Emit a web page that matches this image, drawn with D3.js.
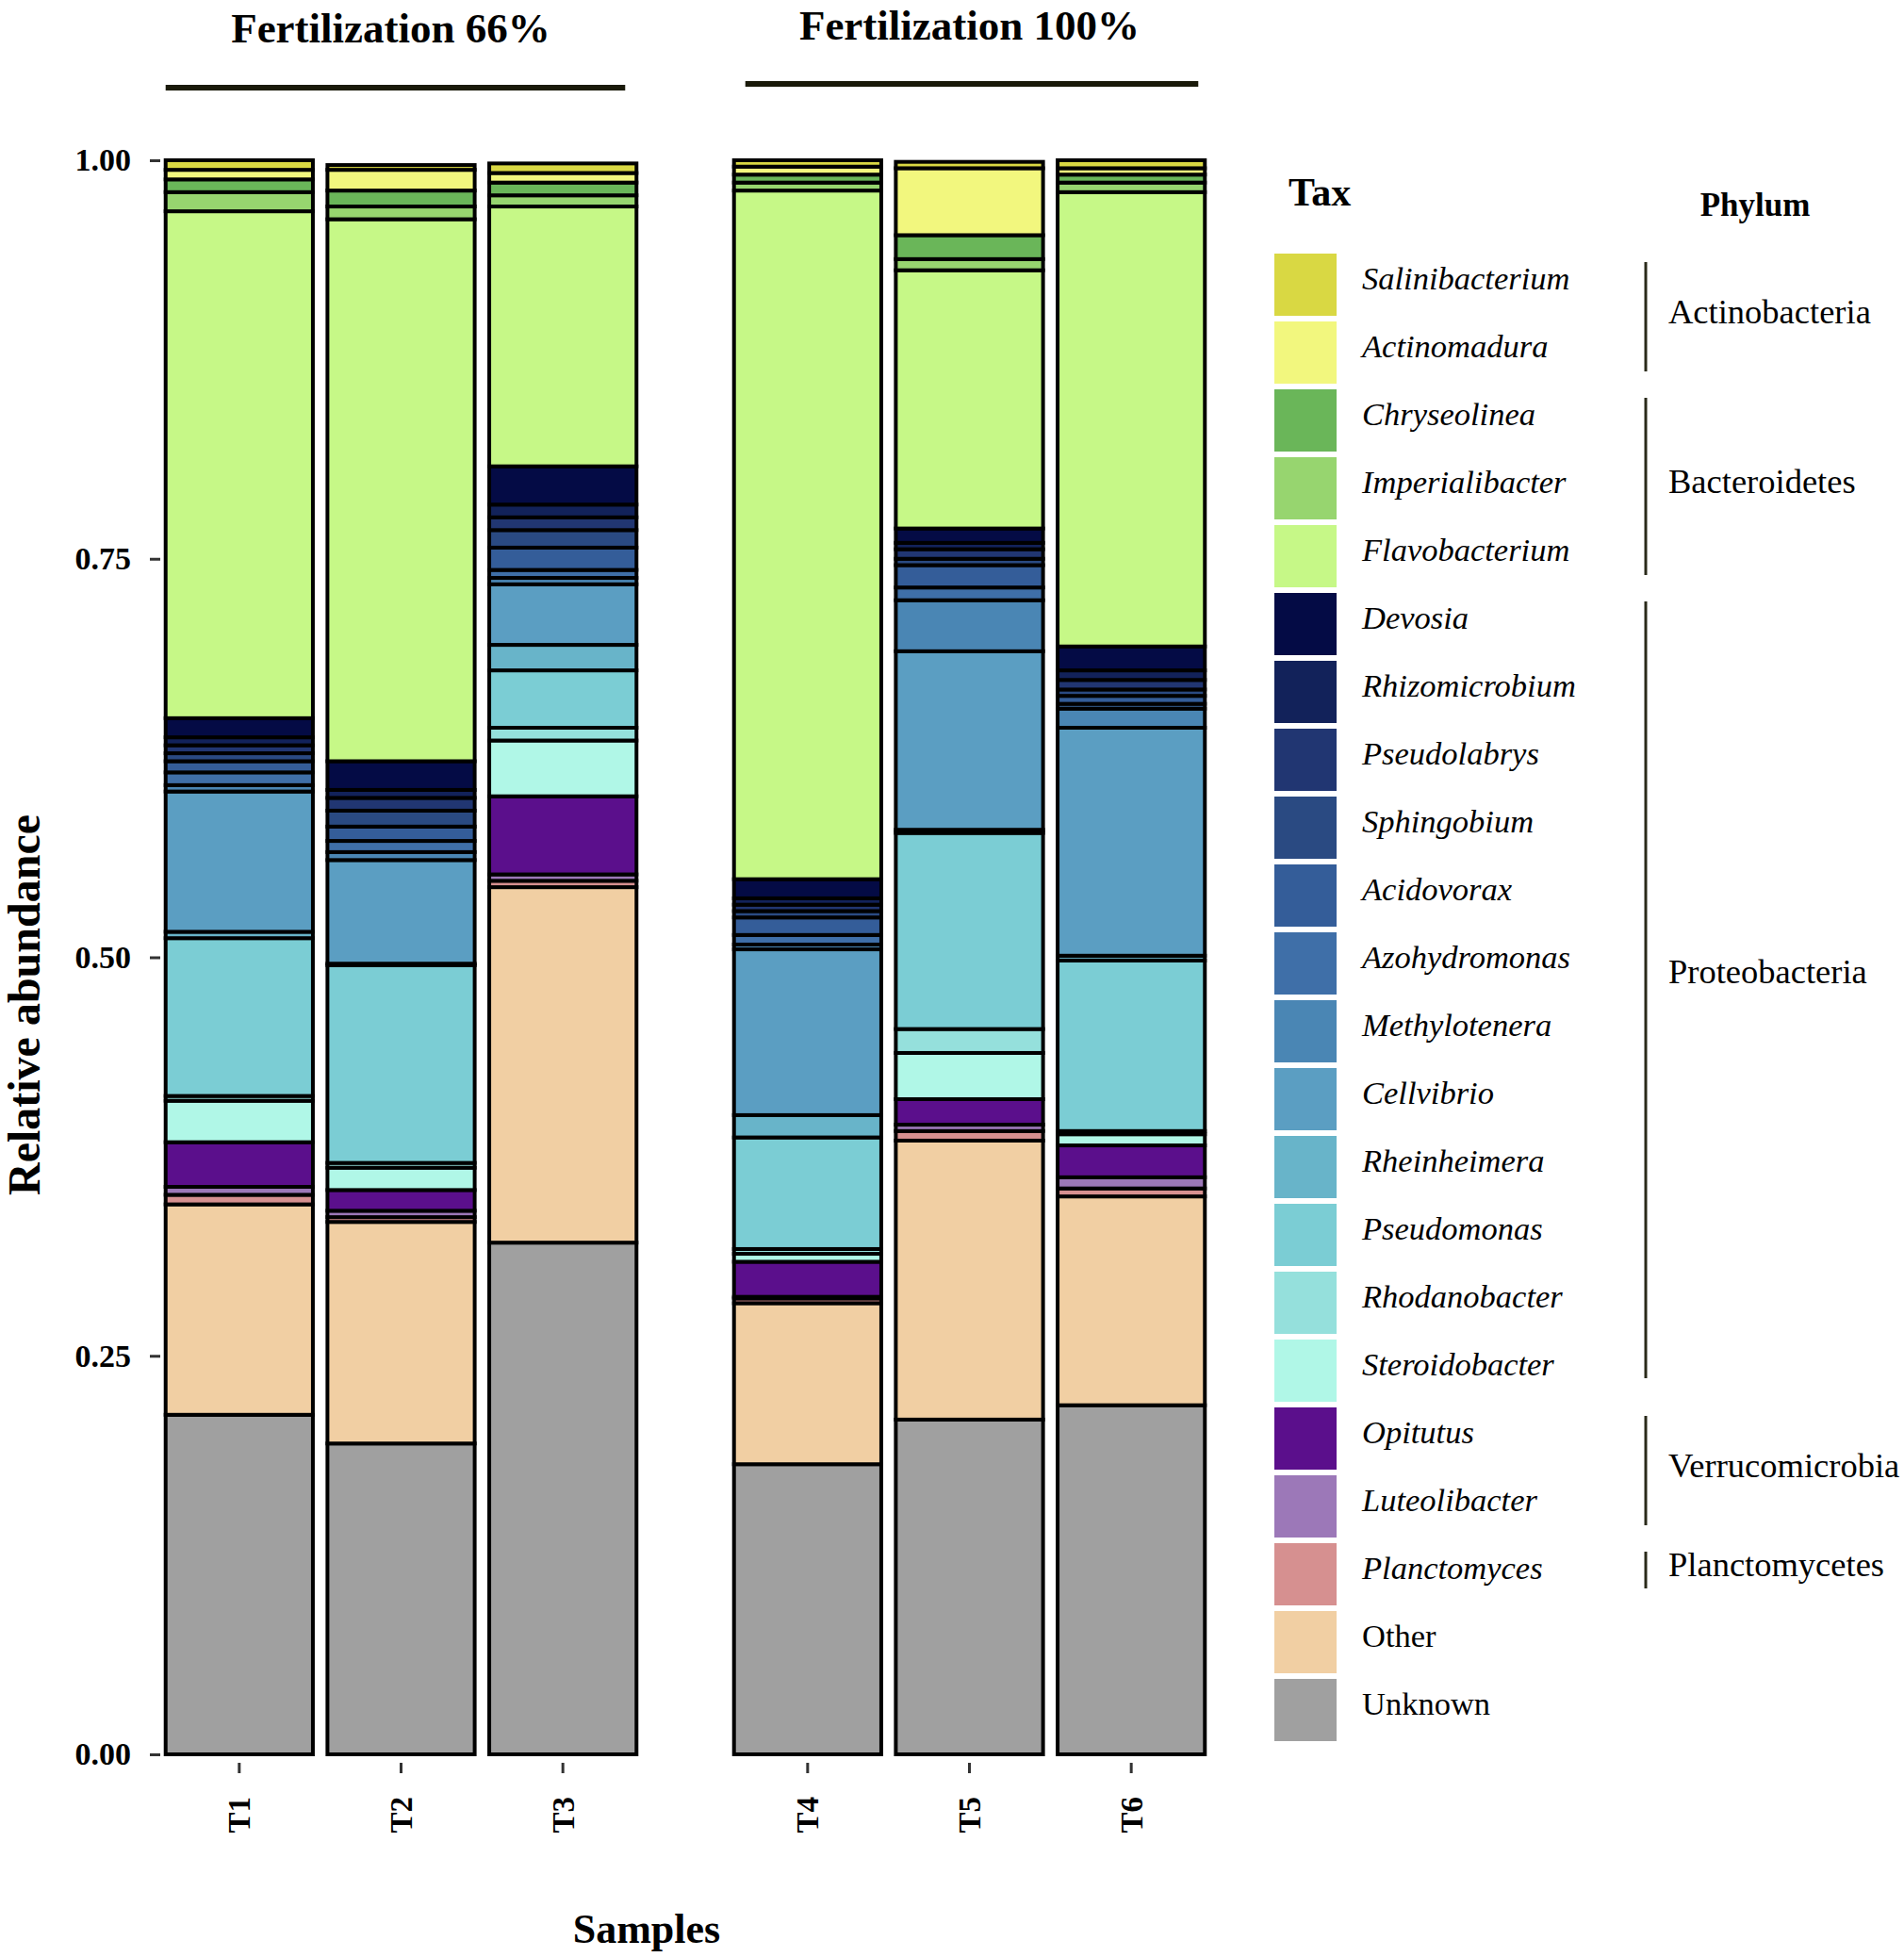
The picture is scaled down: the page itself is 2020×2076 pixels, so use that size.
<!DOCTYPE html>
<html>
<head>
<meta charset="utf-8">
<title>Relative abundance</title>
<script src="https://cdn.jsdelivr.net/npm/d3@7"></script>
<style>
body { margin: 0; background: #fff; }
text { font-family: "Liberation Serif", "DejaVu Serif", serif; fill: #000; }
.bold { font-weight: bold; }
.seg { stroke: #000; stroke-width: 4; }
</style>
</head>
<body>
<script>

// legend / stacking order, top of bar first
var taxa = ["Salinibacterium", "Actinomadura", "Chryseolinea", "Imperialibacter", "Flavobacterium",
  "Devosia", "Rhizomicrobium", "Pseudolabrys", "Sphingobium", "Acidovorax", "Azohydromonas",
  "Methylotenera", "Cellvibrio", "Rheinheimera", "Pseudomonas", "Rhodanobacter", "Steroidobacter",
  "Opitutus", "Luteolibacter", "Planctomyces", "Other", "Unknown"];

var colors = ["#d9d843", "#f2f77e", "#6ab659", "#97d56f", "#c6f887",
  "#040b45", "#12225a", "#213672", "#2a4a82", "#345d99", "#3f6fa8",
  "#4a86b4", "#5b9ec2", "#68b4c9", "#7bcdd4", "#95e0dc", "#b0f7e7",
  "#5b0f8c", "#9c78b8", "#d69090", "#f1cfa3", "#a0a0a0"];

var samples = ["T1", "T2", "T3", "T4", "T5", "T6"];
var groups = ["Fertilization 66%", "Fertilization 100%"];
var groupSamples = [["T1", "T2", "T3"], ["T4", "T5", "T6"]];

// relative abundance per sample, same order as taxa
var T1 = [.006, .006, .008, .012, .318, .012, .005, .005, .005, .007, .008, .004, .088, .004, .099, .003, .026, .028, .005, .006, .132, .213];
var T2 = [.003, .013, .010, .008, .340, .018, .005, .008, .010, .009, .007, .005, .065, .001, .124, .003, .014, .013, .004, .003, .139, .195];
var T3 = [.006, .006, .008, .007, .163, .024, .008, .008, .011, .014, .005, .004, .038, .016, .036, .008, .035, .049, .004, .004, .223, .321];
var T4 = [.004, .005, .005, .005, .432, .012, .004, .004, .004, .011, .006, .003, .104, .014, .070, .003, .005, .022, .001, .003, .101, .182];
var T5 = [.004, .042, .015, .007, .162, .009, .004, .006, .004, .014, .008, .032, .112, .002, .123, .015, .029, .016, .004, .006, .175, .210];
var T6 = [.005, .004, .005, .006, .285, .015, .006, .006, .004, .005, .003, .012, .143, .003, .107, .002, .007, .020, .007, .005, .131, .219];

var yTicks = [0, 0.25, 0.5, 0.75, 1];

var phyla = [
  {name: "Actinobacteria", from: 0, to: 1},
  {name: "Bacteroidetes", from: 2, to: 4},
  {name: "Proteobacteria", from: 5, to: 16},
  {name: "Verrucomicrobia", from: 17, to: 18},
  {name: "Planctomycetes", from: 19, to: 19}
];

var values = {T1: T1, T2: T2, T3: T3, T4: T4, T5: T5, T6: T6};
var table = samples.map(function(s) {
  var row = {sample: s};
  taxa.forEach(function(t, i) { row[t] = values[s][i]; });
  return row;
});

var w = 2020, h = 2076;

var svg = d3.select("body").append("svg")
    .attr("width", w)
    .attr("height", h);

var y = d3.scaleLinear().domain([0, 1]).range([1861, 170]);
var color = d3.scaleOrdinal().domain(taxa).range(colors);

var xs = [
  d3.scaleBand().domain(groupSamples[0]).range([168, 683]).paddingInner(0.09).paddingOuter(0.045),
  d3.scaleBand().domain(groupSamples[1]).range([771, 1286]).paddingInner(0.09).paddingOuter(0.045)
];
function xOf(s) { return xs[0].domain().indexOf(s) >= 0 ? xs[0] : xs[1]; }

// ggplot draws the first level on top, so stack from the bottom up
var series = d3.stack().keys(taxa.slice().reverse())(table);

var layers = svg.selectAll("g.layer")
    .data(series)
  .enter().append("g")
    .attr("class", "layer")
    .attr("fill", function(d) { return color(d.key); });

layers.selectAll("rect")
    .data(function(d) { return d; })
  .enter().append("rect")
    .attr("class", "seg")
    .attr("x", function(d) { return xOf(d.data.sample)(d.data.sample); })
    .attr("width", function(d) { return xOf(d.data.sample).bandwidth(); })
    .attr("y", function(d) { return y(d[1]); })
    .attr("height", function(d) { return y(d[0]) - y(d[1]); });

// y axis
var yAxis = svg.append("g")
    .attr("transform", "translate(170,0)")
    .call(d3.axisLeft(y).tickValues(yTicks).tickFormat(d3.format(".2f")).tickSize(11).tickPadding(20));
yAxis.select(".domain").remove();
yAxis.selectAll("line").attr("stroke", "#333").attr("stroke-width", 3);
yAxis.selectAll("text")
    .attr("class", "bold")
    .style("font-size", "34px")
    .style("font-family", "Liberation Serif");

svg.append("text")
    .attr("class", "bold")
    .attr("transform", "translate(42,1066) rotate(-90)")
    .attr("text-anchor", "middle")
    .style("font-size", "48px")
    .text("Relative abundance");

// x axes, one per facet
xs.forEach(function(x) {
  var g = svg.append("g")
      .attr("transform", "translate(0,1870)")
      .call(d3.axisBottom(x).tickSize(11));
  g.select(".domain").remove();
  g.selectAll("line").attr("stroke", "#333").attr("stroke-width", 3);
  g.selectAll("text")
      .attr("class", "bold")
      .style("font-size", "33px")
      .style("font-family", "Liberation Serif")
      .attr("transform", "rotate(-90)")
      .attr("text-anchor", "end")
      .attr("x", -36)
      .attr("y", 0)
      .attr("dy", "0.35em");
});

svg.append("text")
    .attr("class", "bold")
    .attr("x", 686)
    .attr("y", 2061)
    .attr("text-anchor", "middle")
    .style("font-size", "44px")
    .text("Samples");

// facet headers
var headY = [45, 42], lineY = [93, 89];
groups.forEach(function(gname, i) {
  var x = xs[i];
  var x0 = x(groupSamples[i][0]), x1 = x(groupSamples[i][2]) + x.bandwidth();
  svg.append("text")
      .attr("class", "bold")
      .attr("x", (x0 + x1) / 2 + (i === 0 ? -11 : 0))
      .attr("y", headY[i])
      .attr("text-anchor", "middle")
      .style("font-size", "45px")
      .text(gname);
  svg.append("line")
      .attr("x1", x0 + (i === 0 ? 0 : 12))
      .attr("x2", x1 - (i === 0 ? 12 : 7))
      .attr("y1", lineY[i])
      .attr("y2", lineY[i])
      .attr("stroke", "#1a1a0a")
      .attr("stroke-width", 6);
});

// legend
var step = 72, top0 = 302;
svg.append("text")
    .attr("class", "bold")
    .attr("x", 1367)
    .attr("y", 218)
    .style("font-size", "42px")
    .text("Tax");

svg.append("text")
    .attr("class", "bold")
    .attr("x", 1862)
    .attr("y", 229)
    .attr("text-anchor", "middle")
    .style("font-size", "35px")
    .text("Phylum");

var keys = svg.selectAll("g.key")
    .data(taxa)
  .enter().append("g")
    .attr("class", "key")
    .attr("transform", function(d, i) { return "translate(1352," + (top0 + i * step) + ")"; });

keys.append("rect")
    .attr("x", 0)
    .attr("y", -33)
    .attr("width", 66)
    .attr("height", 66)
    .attr("fill", function(d) { return color(d); });

keys.append("text")
    .attr("x", 93)
    .attr("y", -7)
    .attr("dy", "0.35em")
    .style("font-size", "34.5px")
    .style("font-style", function(d) { return d === "Other" || d === "Unknown" ? "normal" : "italic"; })
    .text(function(d) { return d; });

var ph = svg.selectAll("g.phylum")
    .data(phyla)
  .enter().append("g")
    .attr("class", "phylum");

function lineTop(d) { return top0 + d.from * step - 24; }
function lineBottom(d) {
  var pad = d.to - d.from > 5 ? 8 : (d.to === d.from ? 15 : 20);
  return top0 + d.to * step + pad;
}

ph.append("line")
    .attr("x1", 1746)
    .attr("x2", 1746)
    .attr("y1", lineTop)
    .attr("y2", lineBottom)
    .attr("stroke", "#2a2a1a")
    .attr("stroke-width", 3);

ph.append("text")
    .attr("x", 1770)
    .attr("y", function(d) { return (lineTop(d) + lineBottom(d)) / 2 - (d.to - d.from > 5 ? 20 : 6); })
    .attr("dy", "0.35em")
    .style("font-size", "36.5px")
    .text(function(d) { return d.name; });

</script>
</body>
</html>
